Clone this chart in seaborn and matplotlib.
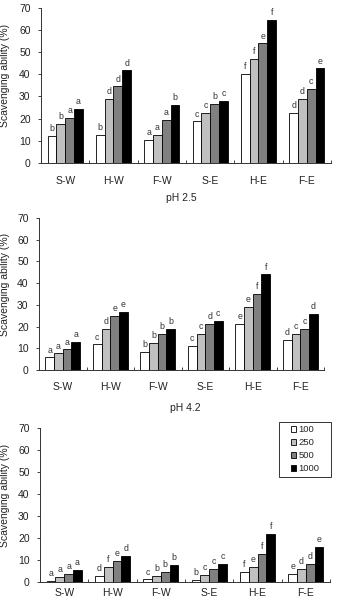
import matplotlib
matplotlib.use("Agg")
import matplotlib.pyplot as plt
import seaborn as sns
import pandas as pd
from matplotlib.patches import Rectangle
from matplotlib.legend_handler import HandlerPatch

sns.set_style("ticks")
plt.rcParams['font.family'] = ['Liberation Sans', 'DejaVu Sans']

samples = ["S-W", "H-W", "F-W", "S-E", "H-E", "F-E"]
concs = ["100", "250", "500", "1000"]
colors = ["#ffffff", "#c0c0c0", "#808080", "#000000"]
panel_titles = [None, "pH 2.5", "pH 4.2"]

# values[sample][conc]
vals_p1 = [[12.3, 17.6, 20.3, 24.5],
           [12.6, 29.0, 34.5, 41.7],
           [10.3, 12.7, 19.3, 26.2],
           [18.7, 22.4, 26.5, 28.0],
           [40.2, 46.7, 53.8, 64.5],
           [22.4, 28.7, 33.2, 42.6]]
vals_p2 = [[5.8, 7.7, 9.5, 13.0],
           [11.8, 18.8, 24.9, 26.9],
           [8.2, 12.6, 16.8, 19.1],
           [11.2, 16.8, 21.1, 22.5],
           [21.2, 28.9, 34.9, 44.0],
           [13.7, 16.8, 18.8, 25.7]]
vals_p3 = [[0.5, 2.3, 3.8, 5.6],
           [2.9, 7.0, 9.5, 11.8],
           [1.2, 2.9, 4.5, 7.7],
           [1.1, 3.3, 5.9, 8.3],
           [4.7, 6.8, 12.8, 22.0],
           [3.6, 5.9, 8.1, 16.1]]

lets_p1 = [["b", "b", "a", "a"], ["b", "d", "d", "d"], ["a", "a", "a", "b"],
           ["c", "c", "b", "c"], ["f", "f", "e", "f"], ["d", "d", "c", "e"]]
lets_p2 = [["a", "a", "a", "a"], ["c", "d", "e", "e"], ["b", "b", "b", "b"],
           ["c", "c", "d", "c"], ["e", "e", "f", "f"], ["d", "c", "c", "d"]]
lets_p3 = [["a", "a", "a", "a"], ["d", "f", "e", "d"], ["c", "b", "b", "b"],
           ["b", "c", "c", "c"], ["f", "e", "f", "f"], ["e", "d", "d", "e"]]

panels = [(vals_p1, lets_p1), (vals_p2, lets_p2), (vals_p3, lets_p3)]

W, H = 338, 600
# axes pixel boxes: left, right, top, bottom
boxes = [(41, 331, 7.5, 163), (39, 324, 218, 370), (40, 330, 428, 582)]
xpads = [9, 9, 4.5]

fig = plt.figure(figsize=(W / 100, H / 100), dpi=100)

for i, ((vals, lets), (l, r, t, b)) in enumerate(zip(panels, boxes)):
    ax = fig.add_axes([l / W, 1 - b / H, (r - l) / W, (b - t) / H])
    rows = []
    for si, s in enumerate(samples):
        for ci, c in enumerate(concs):
            rows.append({"sample": s, "conc": c, "value": vals[si][ci]})
    df = pd.DataFrame(rows)
    sns.barplot(data=df, x="sample", y="value", hue="conc", order=samples,
                hue_order=concs, palette=colors, edgecolor="black",
                linewidth=0.6, width=0.73, gap=0, ax=ax, legend=(i == 2),
                errorbar=None)
    for ci, cont in enumerate(ax.containers):
        ax.bar_label(cont, labels=[lets[si][ci] for si in range(len(samples))],
                     padding=2, fontsize=6.3, color="#333333")
    ax.set_ylim(0, 70)
    ax.set_xlim(-0.5, len(samples) - 0.5)
    ax.set_yticks(range(0, 71, 10))
    ax.set_xticks(range(len(samples)))
    ax.set_xticks([k - 0.5 for k in range(len(samples) + 1)], minor=True)
    ax.tick_params(axis="x", which="major", length=0, pad=xpads[i], labelsize=7.5)
    ax.tick_params(axis="x", which="minor", direction="in", length=2.5, width=0.6)
    ax.tick_params(axis="y", direction="out", length=2.5, width=0.6, pad=5,
                   labelsize=7.5, colors="#222222")
    ax.tick_params(axis="x", colors="#222222")
    for sp in ["top", "right"]:
        ax.spines[sp].set_visible(False)
    for sp in ["left", "bottom"]:
        ax.spines[sp].set_linewidth(0.7)
        ax.spines[sp].set_color("#333333")
    ax.set_xlabel("")
    ax.set_ylabel("Scavenging ability (%)", fontsize=7.5, color="#222222")
    ax.yaxis.set_label_coords((10.5 - l) / (r - l), 0.56)
    if panel_titles[i]:
        ax.set_title(panel_titles[i], fontsize=7.5, pad=12, color="#222222")
    if i == 2:
        handles, labels = ax.get_legend_handles_labels()

        def square(legend, orig_handle, xdescent, ydescent, width, height, fontsize):
            s = height
            return Rectangle((-xdescent + width - s, -ydescent), s, s)

        x0 = (279 - l) / (r - l)
        wbox = (331 - 279) / (r - l)
        ytop = (b - 422) / (b - t)
        leg = ax.legend(handles, labels, loc="upper left",
                        bbox_to_anchor=(x0, 0, wbox, ytop), mode="expand",
                        borderaxespad=0, fontsize=6.8, frameon=True,
                        fancybox=False, edgecolor="#333333", framealpha=1,
                        handlelength=1.45, handleheight=0.5,
                        handletextpad=0.25, labelspacing=0.42, borderpad=0.35,
                        title=None,
                        handler_map={h: HandlerPatch(patch_func=square) for h in handles})
        leg.get_frame().set_linewidth(0.7)

fig.savefig("out.png", dpi=100)
